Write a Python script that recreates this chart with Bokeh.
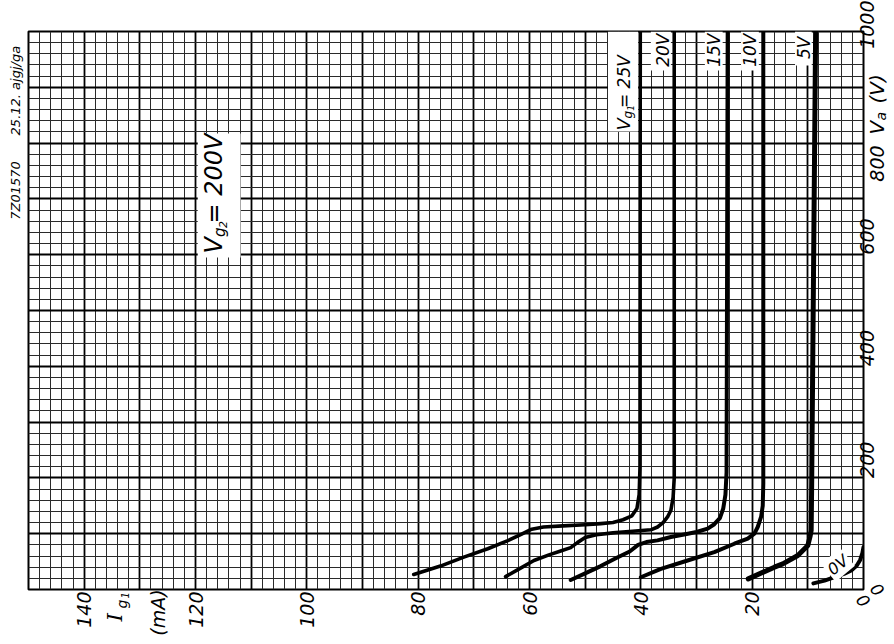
import math
from bokeh.plotting import figure
from bokeh.models import Range1d, FixedTicker, Label, BoxAnnotation
from bokeh.core.properties import value
from bokeh.embed import file_html
from bokeh.resources import INLINE

# ---- data: grid current Ig1 (mA) versus anode voltage Va (V) ----
ig_25 = [80.8, 76.0, 71.8, 67.5, 64.0, 61.5, 59.6, 57.5, 54.0, 50.0, 47.2, 45.0, 43.2, 41.6, 40.7, 40.3, 40.15, 40.1]
va_25 = [27, 42, 58, 73, 87, 99, 108, 112, 114, 116, 118, 120, 125, 132, 145, 170, 220, 1000]

ig_20 = [64.3, 62.0, 59.2, 56.5, 54.4, 52.6, 51.4, 50.0, 48.0, 45.0, 41.5, 38.2, 37.0, 36.0, 35.2, 34.6, 34.2, 34.0, 34.0]
va_20 = [23, 36, 52, 62, 69, 75, 84, 93, 98, 101.5, 104.5, 107, 112, 120, 130, 142, 165, 200, 1000]

ig_15 = [52.6, 50.0, 47.2, 44.5, 42.0, 40.5, 39.0, 37.0, 34.6, 32.0, 30.0, 28.0, 26.8, 25.8, 25.2, 24.8, 24.6, 24.4]
va_15 = [17, 29, 42, 56, 68, 80, 85, 88, 94, 99, 103, 109, 117, 128, 145, 170, 210, 1000]

ig_10 = [40.0, 36.4, 31.6, 26.8, 23.2, 20.8, 19.6, 19.0, 18.4, 18.1, 18.0, 18.0]
va_10 = [22, 37, 52, 67, 82, 91, 100, 112, 130, 150, 190, 1000]

ig_5 = [20.7, 16.0, 14.5, 11.8, 10.0, 9.6, 9.4, 9.3, 8.6]
va_5 = [19, 40, 46, 61, 79, 95, 106, 200, 1000]

ig_0 = [9.0, 7.0, 5.2, 3.5, 2.2, 1.2, 0.6, 0.2, 0.0]
va_0 = [11, 16, 22, 28, 34, 43, 53, 65, 76]

curve_labels = ["=     25V", "20V", "15V", "10V", "5V"]
curve_label_ig = [43.1, 36.1, 26.8, 20.3, 10.6]
curve_label_top = [996.4, 996.4, 996.4, 996.4, 991]
curve_widths = [3.6, 3.6, 4, 4, 5]

ig_ticks = [20, 40, 60, 80, 100, 120, 140]
va_ticks = [200, 400, 600, 1000]

FONT = "DejaVu Sans"

p = figure(frame_width=835, frame_height=558,
           x_range=Range1d(150, 0), y_range=Range1d(0, 1000),
           x_axis_location="below", y_axis_location="right",
           output_backend="svg", toolbar_location=None,
           min_border_left=28, min_border_top=31, min_border_right=26, min_border_bottom=47,
           background_fill_color="white", border_fill_color="white")

p.outline_line_color = "black"
p.outline_line_width = 2

# grid: major every 10 mA / 100 V, minor every 2 mA / 20 V
p.xgrid.ticker = FixedTicker(ticks=list(range(0, 151, 10)), minor_ticks=list(range(0, 151, 2)))
p.ygrid.ticker = FixedTicker(ticks=list(range(0, 1001, 100)), minor_ticks=list(range(0, 1001, 20)))
for g in (p.xgrid, p.ygrid):
    g.grid_line_color = "black"
    g.grid_line_width = 1.8
    g.grid_line_alpha = 1.0
    g.minor_grid_line_color = "#2a2a2a"
    g.minor_grid_line_width = 1

# axes
p.xaxis.ticker = FixedTicker(ticks=ig_ticks)
p.yaxis.ticker = FixedTicker(ticks=va_ticks)
for ax in (p.xaxis, p.yaxis):
    ax.axis_line_color = None
    ax.major_tick_line_color = None
    ax.minor_tick_line_color = None
    ax.major_tick_out = 0
    ax.major_tick_in = 0
    ax.major_label_text_font = FONT
    ax.major_label_text_font_style = "italic"
    ax.major_label_text_font_size = "19px"
    ax.major_label_text_color = "black"
    ax.major_label_orientation = math.pi / 2
p.xaxis.major_label_standoff = 2
p.yaxis.major_label_standoff = 4

# curves
curves = [(ig_25, va_25), (ig_20, va_20), (ig_15, va_15), (ig_10, va_10), (ig_5, va_5)]
for (xs, ys), w in zip(curves, curve_widths):
    p.line(xs, ys, line_color="black", line_width=w, line_join="round", line_cap="round")
p.line(ig_0, va_0, line_color="black", line_width=4, line_join="round", line_cap="round")

# white label boxes (cover the grid behind the in-plot texts)
boxes = [(45.9, 40.5, 820.8, 1000), (38.2, 34.6, 930, 1000), (28.5, 25.3, 930, 1000),
         (22.0, 18.8, 930, 1000), (12.3, 9.3, 939, 1000), (119.6, 111.9, 595, 817)]
for l, r, b, t in boxes:
    p.add_layout(BoxAnnotation(left=l, right=r, bottom=b, top=t, fill_color="white",
                               fill_alpha=1.0, line_color=None))


def lab(text, x, y, size, angle=math.pi / 2, align="center", baseline="middle",
        xo=0, bg=None, font=FONT, style="italic", pad=0):
    l = Label(x=x, y=y, text=text, angle=angle, text_align=align, text_baseline=baseline,
              x_offset=xo, text_font=font, text_font_style=style,
              text_font_size=f"{size}px", text_color="black",
              background_fill_color=bg, padding=pad)
    p.add_layout(l)


def outer(text, x, y, size, angle=math.pi / 2, align="center", xo=0, yo=0, font=FONT):
    p.text(x=[x], y=[y], text=[text], angle=angle, text_align=align, text_baseline="middle",
           x_offset=xo, y_offset=yo, text_font=value(font), text_font_style="italic",
           text_font_size=f"{size}px", text_color="black", level="overlay")


# curve value labels at top
for t, xi, yt in zip(curve_labels, curve_label_ig, curve_label_top):
    lab(t, xi, yt, 17, align="right")
# V_g1 prefix
lab("V", 43.1, 822.6, 18, align="left")
lab("g", 43.1, 844, 12, align="left", xo=4.5)
lab("1", 43.1, 858, 9, align="left", xo=7)

# V_g2 = 200V
lab("V", 116.6, 602.2, 24, align="left")
lab("g", 116.6, 631.7, 15, align="left", xo=6)
lab("2", 116.6, 648, 11, align="left", xo=9)
lab("= 200V", 116.6, 817.2, 24, align="right")

# 0V label
lab("0V", 4.6, 44, 16, angle=0.7, bg="white", pad=2)

# texts outside the plot frame
outer("I", 134.5, 0, 21, align="left", yo=32, font="DejaVu Serif")
outer("g", 134.5, 0, 14, align="left", xo=7, yo=19)
outer("1", 134.5, 0, 10, align="left", xo=10, yo=9)
outer("(mA)", 126.8, 0, 19, yo=23)
outer("800", 0, 763.4, 19, xo=13.5)
outer("V", 0, 815.4, 20, align="left", xo=13.5)
outer("a", 0, 840.5, 14, align="left", xo=17.5)
outer("(V)", 0, 871, 20, align="left", xo=13.5)
outer("0", 0, 0, 17, angle=-0.9, yo=11)
outer("0", 0, 0, 17, angle=-0.9, xo=14)
outer("7Z01570", 150, 715, 13, xo=-13)
outer("25.12. ajgj/ga", 150, 894, 13, xo=-13)

open("out.html", "w").write(file_html(p, INLINE))
